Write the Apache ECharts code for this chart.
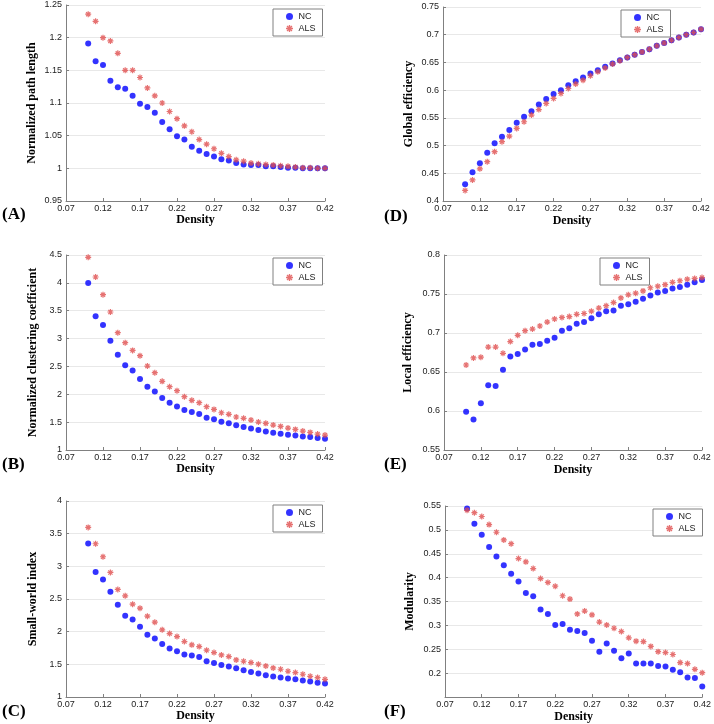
<!DOCTYPE html>
<html>
<head>
<meta charset="utf-8">
<script src="https://cdn.jsdelivr.net/npm/echarts@6/dist/echarts.min.js"></script>
<style>
  html, body { margin: 0; padding: 0; background: #fff; }
  #chart { width: 714px; height: 724px; }
</style>
</head>
<body>
<div id="chart"></div>
<script type="text/javascript">

// density thresholds (x values)
var density = [0.10,0.11,0.12,0.13,0.14,0.15,0.16,0.17,0.18,0.19,0.20,0.21,0.22,0.23,0.24,0.25,0.26,0.27,0.28,0.29,0.30,0.31,0.32,0.33,0.34,0.35,0.36,0.37,0.38,0.39,0.40,0.41,0.42];
var xTicks = [0.07, 0.12, 0.17, 0.22, 0.27, 0.32, 0.37, 0.42];

// (A) normalized path length
var pathNC  = [1.191,1.164,1.158,1.134,1.124,1.122,1.111,1.099,1.094,1.085,1.071,1.060,1.049,1.044,1.033,1.027,1.022,1.018,1.014,1.012,1.008,1.006,1.005,1.005,1.003,1.003,1.002,1.001,1.001,1.000,1.000,1.000,1.000];
var pathALS = [1.236,1.225,1.200,1.195,1.176,1.150,1.150,1.139,1.123,1.111,1.100,1.087,1.076,1.065,1.056,1.044,1.037,1.030,1.023,1.018,1.013,1.011,1.008,1.007,1.006,1.005,1.004,1.003,1.002,1.001,1.001,1.000,1.000];
// (B) normalized clustering coefficient
var ccNC  = [3.997,3.399,3.243,2.962,2.711,2.519,2.429,2.274,2.136,2.052,1.933,1.849,1.783,1.717,1.681,1.645,1.580,1.550,1.508,1.478,1.442,1.412,1.388,1.358,1.334,1.310,1.292,1.274,1.262,1.244,1.232,1.215,1.203];
var ccALS = [4.458,4.105,3.788,3.477,3.106,2.926,2.788,2.693,2.507,2.388,2.232,2.136,2.064,1.957,1.891,1.849,1.777,1.729,1.669,1.640,1.592,1.568,1.538,1.502,1.478,1.448,1.424,1.394,1.370,1.340,1.316,1.286,1.268];
// (C) small-world index
var swNC  = [3.351,2.912,2.799,2.610,2.411,2.242,2.186,2.074,1.951,1.895,1.813,1.741,1.701,1.649,1.634,1.614,1.547,1.522,1.491,1.465,1.440,1.409,1.384,1.358,1.333,1.312,1.297,1.282,1.271,1.251,1.236,1.220,1.205];
var swALS = [3.596,3.346,3.147,2.906,2.646,2.549,2.421,2.360,2.237,2.145,2.028,1.971,1.925,1.849,1.798,1.772,1.716,1.680,1.644,1.619,1.568,1.547,1.527,1.502,1.476,1.445,1.425,1.394,1.374,1.348,1.317,1.297,1.271];
// (D) global efficiency
var geNC  = [0.430,0.452,0.468,0.487,0.504,0.516,0.528,0.541,0.552,0.562,0.574,0.584,0.593,0.600,0.609,0.616,0.623,0.630,0.636,0.642,0.648,0.654,0.659,0.664,0.669,0.674,0.680,0.685,0.690,0.695,0.700,0.704,0.710];
var geALS = [0.419,0.438,0.458,0.471,0.489,0.507,0.517,0.531,0.543,0.555,0.565,0.576,0.585,0.594,0.603,0.611,0.618,0.626,0.633,0.640,0.647,0.653,0.659,0.664,0.669,0.674,0.680,0.685,0.690,0.695,0.700,0.704,0.710];
// (E) local efficiency
var leNC  = [0.599,0.589,0.610,0.633,0.632,0.653,0.670,0.673,0.679,0.685,0.686,0.690,0.694,0.703,0.706,0.712,0.714,0.719,0.724,0.728,0.729,0.735,0.737,0.740,0.744,0.748,0.752,0.754,0.757,0.759,0.762,0.765,0.768];
var leALS = [0.659,0.668,0.669,0.682,0.682,0.674,0.689,0.697,0.703,0.705,0.709,0.714,0.718,0.720,0.721,0.724,0.725,0.728,0.732,0.735,0.739,0.745,0.749,0.751,0.754,0.758,0.760,0.762,0.765,0.767,0.769,0.770,0.771];
// (F) modularity
var modNC  = [0.545,0.513,0.490,0.464,0.444,0.426,0.408,0.392,0.368,0.361,0.333,0.324,0.301,0.303,0.291,0.288,0.284,0.268,0.245,0.262,0.247,0.231,0.241,0.220,0.220,0.220,0.215,0.214,0.207,0.202,0.191,0.190,0.172];
var modALS = [0.541,0.536,0.528,0.511,0.495,0.479,0.471,0.440,0.433,0.419,0.398,0.390,0.382,0.362,0.355,0.324,0.330,0.322,0.307,0.301,0.294,0.287,0.274,0.267,0.266,0.256,0.245,0.243,0.239,0.222,0.220,0.208,0.201];

// y ticks: [min, max, step]
var yTicksA = [0.95, 1.25, 0.05];
var yTicksB = [1, 4.5, 0.5];
var yTicksC = [1, 4, 0.5];
var yTicksD = [0.4, 0.75, 0.05];
var yTicksE = [0.55, 0.8, 0.05];
var yTicksF = [0.15, 0.55, 0.05];

var panels = [
    {tag: '(A)', name: 'Normalized path length', nc: pathNC, als: pathALS, y: yTicksA,
     grid: [66, 5, 259, 196], gapY: 28, gapX: 11, legend: [273, 9], label: [2, 215]},
    {tag: '(D)', name: 'Global efficiency', nc: geNC, als: geALS, y: yTicksD,
     grid: [443, 7, 258, 194], gapY: 28, gapX: 14, legend: [621, 10], label: [384, 217]},
    {tag: '(B)', name: 'Normalized clustering coefficient', nc: ccNC, als: ccALS, y: yTicksB,
     grid: [66, 255, 259, 195], gapY: 27, gapX: 11, legend: [273, 258], label: [2, 465]},
    {tag: '(E)', name: 'Local efficiency', nc: leNC, als: leALS, y: yTicksE,
     grid: [444, 255, 258, 195], gapY: 30, gapX: 14, legend: [600, 258], label: [384, 465]},
    {tag: '(C)', name: 'Small-world index', nc: swNC, als: swALS, y: yTicksC,
     grid: [66, 501, 259, 196], gapY: 27, gapX: 11, legend: [273, 505], label: [2, 712]},
    {tag: '(F)', name: 'Modularity', nc: modNC, als: modALS, y: yTicksF,
     grid: [445, 506, 260, 191], gapY: 29, gapX: 14, legend: [653, 509], label: [384, 712]}
];

// asterisk marker for ALS
var asterisk = 'path://M-1,-5 L1,-5 L1,5 L-1,5 Z M-5,-1 L5,-1 L5,1 L-5,1 Z ' +
    'M-2.8,-4.2 L4.2,2.8 L2.8,4.2 L-4.2,-2.8 Z M2.8,-4.2 L4.2,-2.8 L-2.8,4.2 L-4.2,2.8 Z';

function pairs(ys){
    var out = [];
    for (var i = 0; i < density.length; i++){
        out.push([density[i], ys[i]]);
    }
    return out;
}

var axisColor = '#808080';
var labelFont = {fontFamily: 'Liberation Sans', fontSize: 9, color: '#222'};
var titleFont = {fontFamily: 'Liberation Serif', fontWeight: 'bold', fontSize: 12, color: '#000'};

var option = {
    backgroundColor: '#fff',
    animation: false,
    grid: [], xAxis: [], yAxis: [], series: [], legend: [], graphic: []
};

panels.forEach(function(p, k){
    option.grid.push({left: p.grid[0], top: p.grid[1], width: p.grid[2], height: p.grid[3]});
    option.xAxis.push({
        type: 'value', gridIndex: k,
        min: xTicks[0], max: xTicks[xTicks.length - 1], interval: 0.05,
        name: 'Density', nameLocation: 'middle', nameGap: p.gapX, nameTextStyle: titleFont,
        axisLine: {lineStyle: {color: axisColor}},
        axisTick: {inside: true, length: 3, lineStyle: {color: axisColor}},
        axisLabel: Object.assign({margin: 3, formatter: function(v){ return v.toFixed(2); }}, labelFont),
        splitLine: {show: false}
    });
    option.yAxis.push({
        type: 'value', gridIndex: k,
        min: p.y[0], max: p.y[1], interval: p.y[2],
        name: p.name, nameLocation: 'middle', nameGap: p.gapY, nameTextStyle: titleFont,
        axisLine: {show: true, lineStyle: {color: axisColor}},
        axisTick: {show: true, inside: true, length: 3, lineStyle: {color: axisColor}},
        axisLabel: Object.assign({margin: 4, showMinLabel: k !== 5}, labelFont),
        splitLine: {lineStyle: {color: '#e8e8e8'}}
    });
    option.series.push({
        name: 'NC', type: 'scatter', xAxisIndex: k, yAxisIndex: k,
        symbol: 'circle', symbolSize: 6,
        itemStyle: {color: '#0000ff'},
        data: pairs(p.nc)
    });
    option.series.push({
        name: 'ALS', type: 'scatter', xAxisIndex: k, yAxisIndex: k,
        symbol: asterisk, symbolSize: 6,
        itemStyle: {color: '#e04f4f', opacity: 0.8},
        data: pairs(p.als)
    });
    option.legend.push({
        data: ['NC', 'ALS'], orient: 'vertical',
        left: p.legend[0], top: p.legend[1],
        backgroundColor: '#fff', borderColor: '#808080', borderWidth: 1, borderRadius: 0,
        padding: [3, 7, 3, 13], itemGap: 3, itemWidth: 8, itemHeight: 7,
        textStyle: {fontFamily: 'Liberation Sans', fontSize: 9, color: '#222'},
        selectedMode: false
    });
    option.graphic.push({
        type: 'text', left: p.label[0], top: p.label[1] - 9,
        style: {text: p.tag, fontFamily: 'Liberation Serif', fontWeight: 'bold', fontSize: 17, fill: '#000'}
    });
});

var myChart = echarts.init(document.getElementById('chart'));
myChart.setOption(option);

</script>
</body>
</html>
